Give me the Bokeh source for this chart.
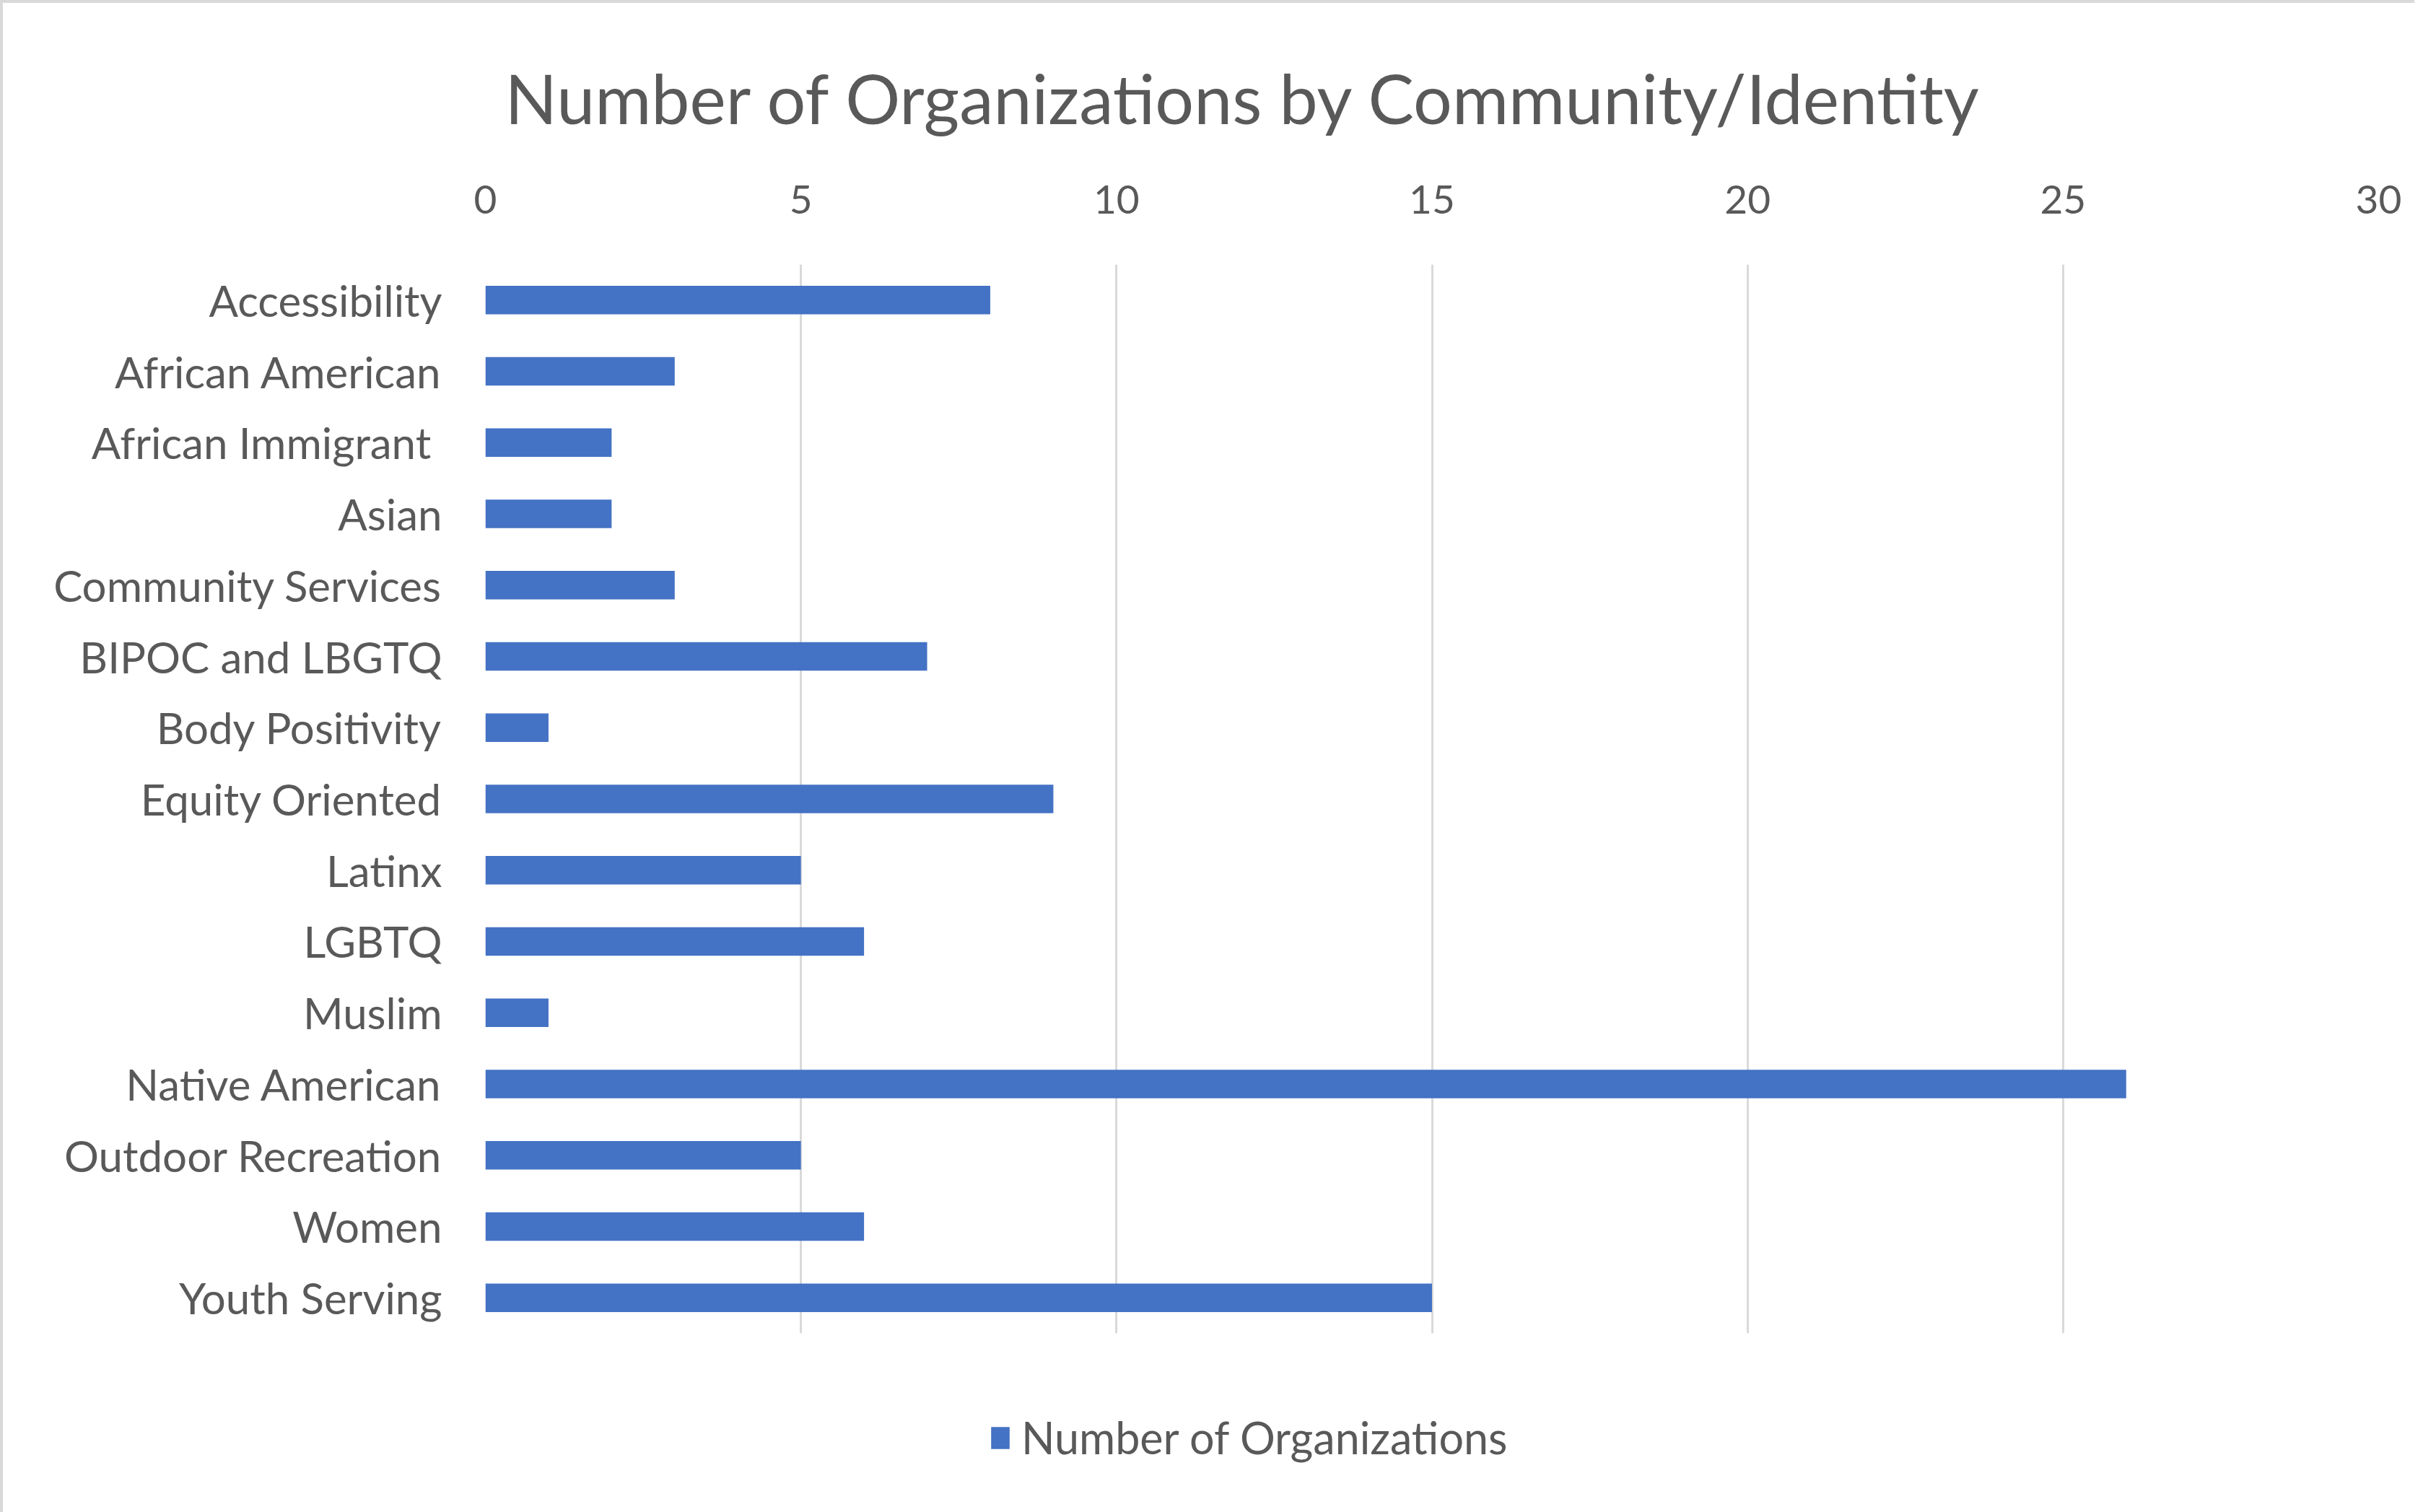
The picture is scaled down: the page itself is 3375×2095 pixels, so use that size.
from bokeh.plotting import figure
from bokeh.models import FixedTicker, Legend, LegendItem, Range1d, FactorRange, ColumnDataSource
from bokeh.embed import file_html
from bokeh.resources import INLINE

categories = ["Accessibility", "African American", "African Immigrant ", "Asian",
              "Community Services", "BIPOC and LBGTQ", "Body Positivity",
              "Equity Oriented", "Latinx", "LGBTQ", "Muslim", "Native American",
              "Outdoor Recreation", "Women", "Youth Serving"]
counts = [8, 3, 2, 2, 3, 7, 1, 9, 5, 6, 1, 26, 5, 6, 15]
x_ticks = [0, 5, 10, 15, 20, 25, 30]
title_text = "Number of Organizations by Community/Identity"
series_name = "Number of Organizations"

FONT = "Lato"
TEXT = "#595959"
GRID = "#d9d9d9"
BAR = "#4472C4"

p = figure(frame_width=2623, frame_height=1481, output_backend="svg", toolbar_location=None,
           x_range=Range1d(0, 30), y_range=FactorRange(factors=list(reversed(categories))),
           x_axis_location="above",
           min_border_left=668, min_border_right=50, min_border_top=362, min_border_bottom=236)

src = ColumnDataSource(dict(cat=categories, val=counts))
r = p.hbar(y="cat", right="val", left=0, height=0.4, source=src,
           fill_color=BAR, line_color=None)

p.title.text = title_text
p.title.text_font = FONT
p.title.text_font_size = "95px"
p.title.text_font_style = "normal"
p.title.text_color = TEXT
p.title.align = "left"
p.title.offset = 27
p.title.standoff = 124

xa = p.xaxis[0]
xa.ticker = FixedTicker(ticks=x_ticks)
xa.axis_line_color = None
xa.major_tick_line_color = None
xa.minor_tick_line_color = None
xa.major_label_text_font = FONT
xa.major_label_text_font_size = "55px"
xa.major_label_text_color = TEXT
xa.major_label_standoff = 65

ya = p.yaxis[0]
ya.axis_line_color = None
ya.major_tick_line_color = None
ya.minor_tick_line_color = None
ya.major_label_text_font = FONT
ya.major_label_text_font_size = "60px"
ya.major_label_text_color = TEXT
ya.major_label_standoff = 54

p.xgrid.grid_line_color = GRID
p.xgrid.grid_line_width = 3
p.xgrid.ticker = FixedTicker(ticks=x_ticks)
p.ygrid.grid_line_color = None
p.outline_line_color = None

legend = Legend(items=[LegendItem(label=series_name, renderers=[r])],
                orientation="horizontal", location="top_center",
                margin=108, padding=0,
                border_line_color=None, background_fill_alpha=0,
                label_text_font=FONT, label_text_font_size="61px",
                label_text_color=TEXT, glyph_width=32, glyph_height=38,
                label_standoff=14, label_width=1183)
p.add_layout(legend, "below")

p.styles = {"border-top": "4px solid #d9d9d9", "border-left": "4px solid #d9d9d9"}

open("out.html", "w").write(file_html(p, INLINE))
